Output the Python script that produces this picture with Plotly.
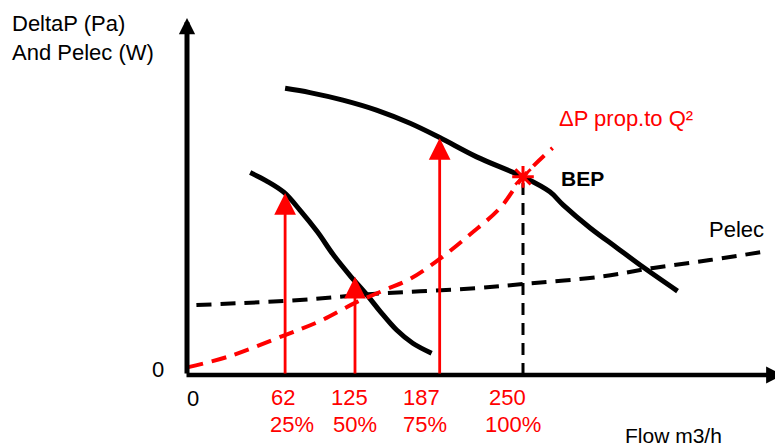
import plotly.graph_objects as go

# ---------------- data ----------------
pump_low_flow = [47, 59, 72, 84, 97, 109, 121, 134, 144, 156, 168, 182]
pump_low_dp = [56.7, 54.4, 51.2, 46.2, 40.1, 33.6, 28.0, 22.4, 17.7, 12.6, 8.9, 6.1]

pump_high_flow = [73, 91.5, 116, 141, 166, 188, 215.5, 250, 270, 280, 300, 320, 339, 365]
pump_high_dp = [80.3, 79.1, 77.0, 74.2, 70.5, 66.5, 61.1, 55.5, 51.3, 47.6, 41.2, 35.6, 30.3, 23.5]

system_flow = [1, 32, 71, 99, 125, 147, 166, 188, 211, 233, 250, 272]
system_dp = [2.2, 5.3, 10.9, 15.1, 20.2, 23.8, 26.9, 32.5, 39.5, 46.8, 55.5, 63.6]

pelec_flow = [7, 84, 138, 218, 250, 307, 347, 389, 432]
pelec_w = [19.6, 21.0, 22.7, 24.4, 25.5, 27.5, 30.0, 32.2, 34.7]

arrow_flow = [73, 125, 188]
arrow_dp = [51.0, 27.5, 66.4]

bep_flow = 250
bep_dp = 55.5

flow_labels = ["62", "125", "187", "250"]
pct_labels = ["25%", "50%", "75%", "100%"]

# ---------------- layout (page pixels of the plot area) ----------------
OFF = 8                      # page offset of the figure div (body margin)
PX0, PX1 = 187, 783          # plot area left/right on the page
PY0, PY1 = 18, 375           # plot area top/bottom on the page
W, H = 783 - OFF, 448 - OFF
ML, MR = PX0 - OFF, W - (PX1 - OFF)
MT, MB = PY0 - OFF, H - (PY1 - OFF)
XSCALE = 1.344               # px per flow unit
YSCALE = 3.57                # px per y unit
XMAX = (PX1 - PX0) / XSCALE
YMAX = (PY1 - PY0) / YSCALE


def fx(px):
    return (px - PX0) / XSCALE


def px_(px):
    return (px - PX0) / (PX1 - PX0)


def py_(py):
    return (PY1 - py) / (PY1 - PY0)


RED = "#FF0000"
FONT = "Liberation Sans, Arial, sans-serif"

fig = go.Figure()

fig.add_trace(go.Scatter(x=pelec_flow, y=pelec_w, mode="lines",
                         line=dict(color="black", width=4, dash="15px,9px", shape="spline"),
                         hoverinfo="skip"))
fig.add_trace(go.Scatter(x=[bep_flow, bep_flow], y=[0, bep_dp], mode="lines",
                         line=dict(color="black", width=3, dash="12px,8px"),
                         hoverinfo="skip"))
fig.add_trace(go.Scatter(x=pump_low_flow, y=pump_low_dp, mode="lines",
                         line=dict(color="black", width=5, shape="spline"),
                         hoverinfo="skip"))
fig.add_trace(go.Scatter(x=pump_high_flow, y=pump_high_dp, mode="lines",
                         line=dict(color="black", width=5, shape="spline"),
                         hoverinfo="skip"))
fig.add_trace(go.Scatter(x=system_flow, y=system_dp, mode="lines",
                         line=dict(color=RED, width=4, dash="15px,9px", shape="spline"),
                         hoverinfo="skip"))
fig.add_trace(go.Scatter(x=[bep_flow], y=[bep_dp], mode="markers",
                         marker=dict(symbol="asterisk-open", size=18, color=RED,
                                     line=dict(color=RED, width=3)),
                         hoverinfo="skip"))

annotations = []

# axes with arrowheads
annotations.append(dict(x=0, y=YMAX, ax=0, ay=0, xref="x", yref="y", axref="x", ayref="y",
                        text="", showarrow=True, arrowhead=2, arrowsize=0.65, arrowwidth=5,
                        arrowcolor="black", standoff=0, startstandoff=0))
annotations.append(dict(x=XMAX, y=0, ax=fx(185), ay=0, xref="x", yref="y", axref="x", ayref="y",
                        text="", showarrow=True, arrowhead=2, arrowsize=0.75, arrowwidth=4.5,
                        arrowcolor="black", standoff=0, startstandoff=0))

# red arrows at partial flows
for xf, yd in zip(arrow_flow, arrow_dp):
    annotations.append(dict(x=xf, y=yd, ax=xf, ay=0, xref="x", yref="y", axref="x", ayref="y",
                            text="", showarrow=True, arrowhead=2, arrowsize=1.55, arrowwidth=2.8,
                            arrowcolor=RED, standoff=0, startstandoff=0))


def label(text, x, y, color="black", size=22, xanchor="center", align="center", yanchor="middle"):
    annotations.append(dict(text=text, x=px_(x), y=py_(y), xref="paper", yref="paper",
                            xanchor=xanchor, yanchor=yanchor, align=align, showarrow=False,
                            borderpad=0,
                            font=dict(family=FONT, size=size, color=color)))


label("DeltaP (Pa)<br>And Pelec (W)", 11, 38, xanchor="left", align="left")
label("ΔP prop.to Q²", 626, 118, color=RED)
label("<b>BEP</b>", 582, 178, size=21)
label("Pelec", 736, 229)
label("0", 158, 369)
label("0", 193, 398)
label("Flow m3/h", 673, 448, size=21, yanchor="bottom")

flow_label_px = [283, 349, 421, 507]
pct_label_px = [292, 355, 425, 513]
for lab, p in zip(flow_labels, flow_label_px):
    label(lab, p, 397, color=RED)
for lab, p in zip(pct_labels, pct_label_px):
    label(lab, p, 424, color=RED)

fig.update_layout(
    width=W, height=H, autosize=False,
    margin=dict(l=ML, r=MR, t=MT, b=MB, pad=0),
    paper_bgcolor="white", plot_bgcolor="white",
    showlegend=False,
    xaxis=dict(range=[0, XMAX], visible=False, fixedrange=True),
    yaxis=dict(range=[0, YMAX], visible=False, fixedrange=True),
    annotations=annotations,
)

fig.write_html("out.html")
